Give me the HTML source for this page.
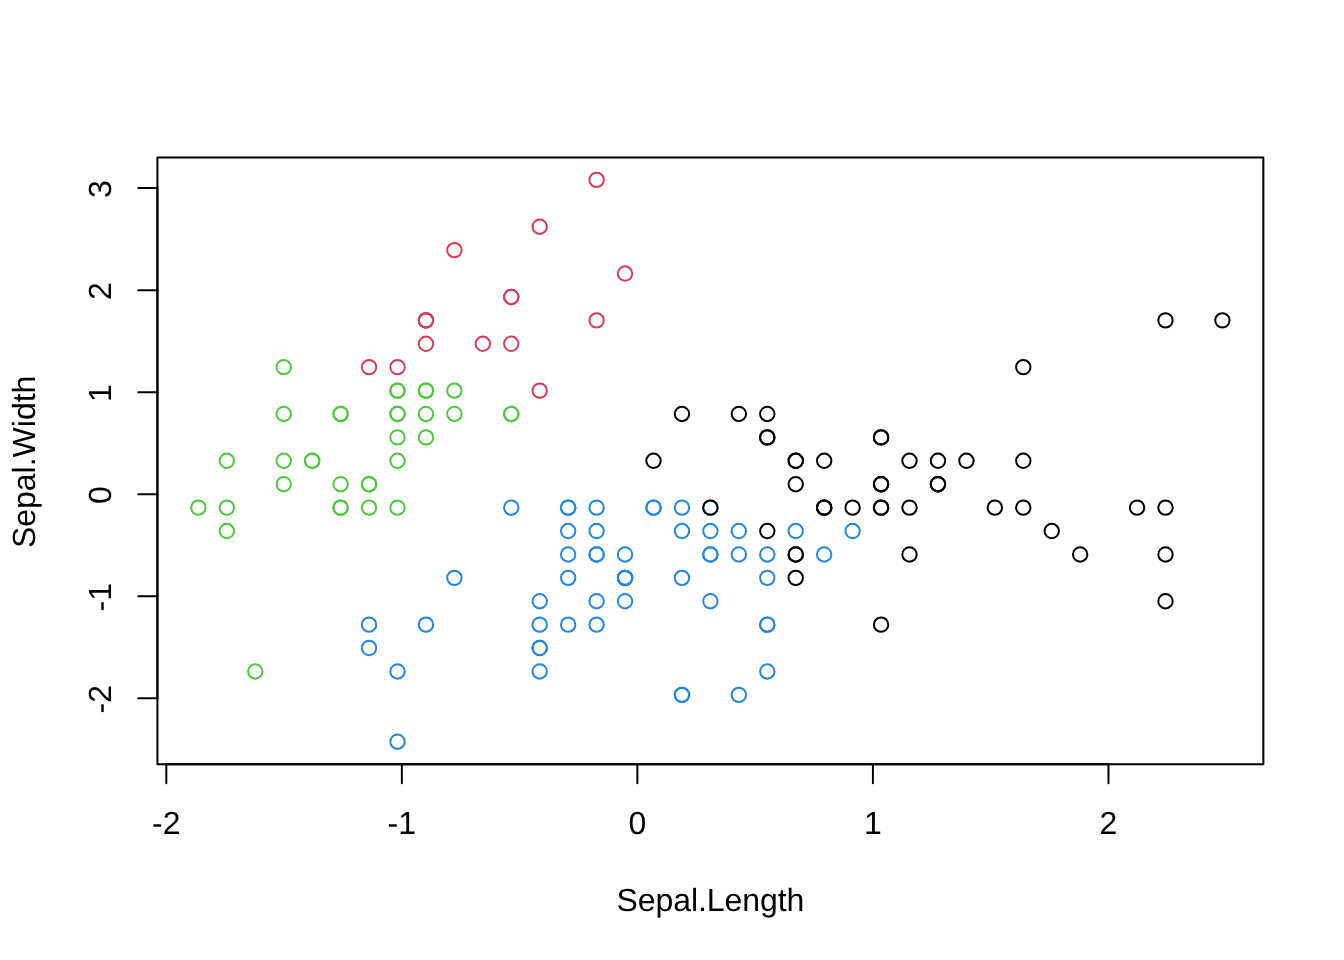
<!DOCTYPE html>
<html lang="en"><head><meta charset="utf-8"><title>Sepal.Length vs Sepal.Width</title>
<style>html,body{margin:0;padding:0;background:#fff}svg{display:block}text{text-rendering:geometricPrecision;font-family:"Liberation Sans",Arial,Helvetica,sans-serif;font-size:32px;fill:#000}</style></head>
<body>
<svg width="1344" height="960" viewBox="0 0 1344 960">
<rect width="1344" height="960" fill="#fff"/>
<g fill="none" stroke-width="2">
<circle cx="425.96" cy="390.58" r="7.2" stroke="#4EC73D"/>
<circle cx="369.07" cy="507.61" r="7.2" stroke="#4EC73D"/>
<circle cx="312.18" cy="460.80" r="7.2" stroke="#4EC73D"/>
<circle cx="283.73" cy="484.21" r="7.2" stroke="#4EC73D"/>
<circle cx="397.51" cy="367.17" r="7.2" stroke="#D43C58"/>
<circle cx="511.29" cy="296.95" r="7.2" stroke="#D43C58"/>
<circle cx="283.73" cy="413.99" r="7.2" stroke="#4EC73D"/>
<circle cx="397.51" cy="413.99" r="7.2" stroke="#4EC73D"/>
<circle cx="226.84" cy="531.02" r="7.2" stroke="#4EC73D"/>
<circle cx="369.07" cy="484.21" r="7.2" stroke="#4EC73D"/>
<circle cx="511.29" cy="343.76" r="7.2" stroke="#D43C58"/>
<circle cx="340.62" cy="413.99" r="7.2" stroke="#4EC73D"/>
<circle cx="340.62" cy="507.61" r="7.2" stroke="#4EC73D"/>
<circle cx="198.40" cy="507.61" r="7.2" stroke="#4EC73D"/>
<circle cx="625.07" cy="273.54" r="7.2" stroke="#D43C58"/>
<circle cx="596.62" cy="179.91" r="7.2" stroke="#D43C58"/>
<circle cx="511.29" cy="296.95" r="7.2" stroke="#D43C58"/>
<circle cx="425.96" cy="390.58" r="7.2" stroke="#4EC73D"/>
<circle cx="596.62" cy="320.36" r="7.2" stroke="#D43C58"/>
<circle cx="425.96" cy="320.36" r="7.2" stroke="#D43C58"/>
<circle cx="511.29" cy="413.99" r="7.2" stroke="#4EC73D"/>
<circle cx="425.96" cy="343.76" r="7.2" stroke="#D43C58"/>
<circle cx="283.73" cy="367.17" r="7.2" stroke="#4EC73D"/>
<circle cx="425.96" cy="437.39" r="7.2" stroke="#4EC73D"/>
<circle cx="340.62" cy="413.99" r="7.2" stroke="#4EC73D"/>
<circle cx="397.51" cy="507.61" r="7.2" stroke="#4EC73D"/>
<circle cx="397.51" cy="413.99" r="7.2" stroke="#4EC73D"/>
<circle cx="454.40" cy="390.58" r="7.2" stroke="#4EC73D"/>
<circle cx="454.40" cy="413.99" r="7.2" stroke="#4EC73D"/>
<circle cx="312.18" cy="460.80" r="7.2" stroke="#4EC73D"/>
<circle cx="340.62" cy="484.21" r="7.2" stroke="#4EC73D"/>
<circle cx="511.29" cy="413.99" r="7.2" stroke="#4EC73D"/>
<circle cx="454.40" cy="250.13" r="7.2" stroke="#D43C58"/>
<circle cx="539.73" cy="226.73" r="7.2" stroke="#D43C58"/>
<circle cx="369.07" cy="484.21" r="7.2" stroke="#4EC73D"/>
<circle cx="397.51" cy="460.80" r="7.2" stroke="#4EC73D"/>
<circle cx="539.73" cy="390.58" r="7.2" stroke="#D43C58"/>
<circle cx="369.07" cy="367.17" r="7.2" stroke="#D43C58"/>
<circle cx="226.84" cy="507.61" r="7.2" stroke="#4EC73D"/>
<circle cx="425.96" cy="413.99" r="7.2" stroke="#4EC73D"/>
<circle cx="397.51" cy="390.58" r="7.2" stroke="#4EC73D"/>
<circle cx="255.29" cy="671.47" r="7.2" stroke="#4EC73D"/>
<circle cx="226.84" cy="460.80" r="7.2" stroke="#4EC73D"/>
<circle cx="397.51" cy="390.58" r="7.2" stroke="#4EC73D"/>
<circle cx="425.96" cy="320.36" r="7.2" stroke="#D43C58"/>
<circle cx="340.62" cy="507.61" r="7.2" stroke="#4EC73D"/>
<circle cx="425.96" cy="320.36" r="7.2" stroke="#D43C58"/>
<circle cx="283.73" cy="460.80" r="7.2" stroke="#4EC73D"/>
<circle cx="482.84" cy="343.76" r="7.2" stroke="#D43C58"/>
<circle cx="397.51" cy="437.39" r="7.2" stroke="#4EC73D"/>
<circle cx="966.40" cy="460.80" r="7.2" stroke="#000000"/>
<circle cx="795.73" cy="460.80" r="7.2" stroke="#000000"/>
<circle cx="937.96" cy="484.21" r="7.2" stroke="#000000"/>
<circle cx="539.73" cy="671.47" r="7.2" stroke="#2485E2"/>
<circle cx="824.18" cy="554.43" r="7.2" stroke="#2485E2"/>
<circle cx="596.62" cy="554.43" r="7.2" stroke="#2485E2"/>
<circle cx="767.29" cy="437.39" r="7.2" stroke="#000000"/>
<circle cx="369.07" cy="648.06" r="7.2" stroke="#2485E2"/>
<circle cx="852.62" cy="531.02" r="7.2" stroke="#2485E2"/>
<circle cx="454.40" cy="577.84" r="7.2" stroke="#2485E2"/>
<circle cx="397.51" cy="741.69" r="7.2" stroke="#2485E2"/>
<circle cx="653.51" cy="507.61" r="7.2" stroke="#2485E2"/>
<circle cx="681.96" cy="694.87" r="7.2" stroke="#2485E2"/>
<circle cx="710.40" cy="531.02" r="7.2" stroke="#2485E2"/>
<circle cx="568.18" cy="531.02" r="7.2" stroke="#2485E2"/>
<circle cx="881.07" cy="484.21" r="7.2" stroke="#000000"/>
<circle cx="568.18" cy="507.61" r="7.2" stroke="#2485E2"/>
<circle cx="625.07" cy="577.84" r="7.2" stroke="#2485E2"/>
<circle cx="738.84" cy="694.87" r="7.2" stroke="#2485E2"/>
<circle cx="568.18" cy="624.65" r="7.2" stroke="#2485E2"/>
<circle cx="653.51" cy="460.80" r="7.2" stroke="#000000"/>
<circle cx="710.40" cy="554.43" r="7.2" stroke="#2485E2"/>
<circle cx="767.29" cy="624.65" r="7.2" stroke="#2485E2"/>
<circle cx="710.40" cy="554.43" r="7.2" stroke="#2485E2"/>
<circle cx="795.73" cy="531.02" r="7.2" stroke="#2485E2"/>
<circle cx="852.62" cy="507.61" r="7.2" stroke="#000000"/>
<circle cx="909.51" cy="554.43" r="7.2" stroke="#000000"/>
<circle cx="881.07" cy="507.61" r="7.2" stroke="#000000"/>
<circle cx="681.96" cy="531.02" r="7.2" stroke="#2485E2"/>
<circle cx="596.62" cy="601.24" r="7.2" stroke="#2485E2"/>
<circle cx="539.73" cy="648.06" r="7.2" stroke="#2485E2"/>
<circle cx="539.73" cy="648.06" r="7.2" stroke="#2485E2"/>
<circle cx="625.07" cy="577.84" r="7.2" stroke="#2485E2"/>
<circle cx="681.96" cy="577.84" r="7.2" stroke="#2485E2"/>
<circle cx="511.29" cy="507.61" r="7.2" stroke="#2485E2"/>
<circle cx="681.96" cy="413.99" r="7.2" stroke="#000000"/>
<circle cx="881.07" cy="484.21" r="7.2" stroke="#000000"/>
<circle cx="767.29" cy="671.47" r="7.2" stroke="#2485E2"/>
<circle cx="568.18" cy="507.61" r="7.2" stroke="#2485E2"/>
<circle cx="539.73" cy="624.65" r="7.2" stroke="#2485E2"/>
<circle cx="539.73" cy="601.24" r="7.2" stroke="#2485E2"/>
<circle cx="710.40" cy="507.61" r="7.2" stroke="#2485E2"/>
<circle cx="625.07" cy="601.24" r="7.2" stroke="#2485E2"/>
<circle cx="397.51" cy="671.47" r="7.2" stroke="#2485E2"/>
<circle cx="568.18" cy="577.84" r="7.2" stroke="#2485E2"/>
<circle cx="596.62" cy="507.61" r="7.2" stroke="#2485E2"/>
<circle cx="596.62" cy="531.02" r="7.2" stroke="#2485E2"/>
<circle cx="738.84" cy="531.02" r="7.2" stroke="#2485E2"/>
<circle cx="425.96" cy="624.65" r="7.2" stroke="#2485E2"/>
<circle cx="596.62" cy="554.43" r="7.2" stroke="#2485E2"/>
<circle cx="767.29" cy="437.39" r="7.2" stroke="#000000"/>
<circle cx="625.07" cy="577.84" r="7.2" stroke="#2485E2"/>
<circle cx="994.84" cy="507.61" r="7.2" stroke="#000000"/>
<circle cx="767.29" cy="531.02" r="7.2" stroke="#000000"/>
<circle cx="824.18" cy="507.61" r="7.2" stroke="#000000"/>
<circle cx="1137.07" cy="507.61" r="7.2" stroke="#000000"/>
<circle cx="369.07" cy="624.65" r="7.2" stroke="#2485E2"/>
<circle cx="1051.73" cy="531.02" r="7.2" stroke="#000000"/>
<circle cx="881.07" cy="624.65" r="7.2" stroke="#000000"/>
<circle cx="1023.29" cy="367.17" r="7.2" stroke="#000000"/>
<circle cx="824.18" cy="460.80" r="7.2" stroke="#000000"/>
<circle cx="795.73" cy="577.84" r="7.2" stroke="#000000"/>
<circle cx="909.51" cy="507.61" r="7.2" stroke="#000000"/>
<circle cx="596.62" cy="624.65" r="7.2" stroke="#2485E2"/>
<circle cx="625.07" cy="554.43" r="7.2" stroke="#2485E2"/>
<circle cx="795.73" cy="460.80" r="7.2" stroke="#000000"/>
<circle cx="824.18" cy="507.61" r="7.2" stroke="#000000"/>
<circle cx="1165.51" cy="320.36" r="7.2" stroke="#000000"/>
<circle cx="1165.51" cy="601.24" r="7.2" stroke="#000000"/>
<circle cx="681.96" cy="694.87" r="7.2" stroke="#2485E2"/>
<circle cx="937.96" cy="460.80" r="7.2" stroke="#000000"/>
<circle cx="568.18" cy="554.43" r="7.2" stroke="#2485E2"/>
<circle cx="1165.51" cy="554.43" r="7.2" stroke="#000000"/>
<circle cx="767.29" cy="577.84" r="7.2" stroke="#2485E2"/>
<circle cx="881.07" cy="437.39" r="7.2" stroke="#000000"/>
<circle cx="1023.29" cy="460.80" r="7.2" stroke="#000000"/>
<circle cx="738.84" cy="554.43" r="7.2" stroke="#2485E2"/>
<circle cx="710.40" cy="507.61" r="7.2" stroke="#000000"/>
<circle cx="795.73" cy="554.43" r="7.2" stroke="#000000"/>
<circle cx="1023.29" cy="507.61" r="7.2" stroke="#000000"/>
<circle cx="1080.18" cy="554.43" r="7.2" stroke="#000000"/>
<circle cx="1222.40" cy="320.36" r="7.2" stroke="#000000"/>
<circle cx="795.73" cy="554.43" r="7.2" stroke="#000000"/>
<circle cx="767.29" cy="554.43" r="7.2" stroke="#2485E2"/>
<circle cx="710.40" cy="601.24" r="7.2" stroke="#2485E2"/>
<circle cx="1165.51" cy="507.61" r="7.2" stroke="#000000"/>
<circle cx="767.29" cy="413.99" r="7.2" stroke="#000000"/>
<circle cx="795.73" cy="484.21" r="7.2" stroke="#000000"/>
<circle cx="681.96" cy="507.61" r="7.2" stroke="#2485E2"/>
<circle cx="937.96" cy="484.21" r="7.2" stroke="#000000"/>
<circle cx="881.07" cy="484.21" r="7.2" stroke="#000000"/>
<circle cx="937.96" cy="484.21" r="7.2" stroke="#000000"/>
<circle cx="625.07" cy="577.84" r="7.2" stroke="#2485E2"/>
<circle cx="909.51" cy="460.80" r="7.2" stroke="#000000"/>
<circle cx="881.07" cy="437.39" r="7.2" stroke="#000000"/>
<circle cx="881.07" cy="507.61" r="7.2" stroke="#000000"/>
<circle cx="767.29" cy="624.65" r="7.2" stroke="#2485E2"/>
<circle cx="824.18" cy="507.61" r="7.2" stroke="#000000"/>
<circle cx="738.84" cy="413.99" r="7.2" stroke="#000000"/>
<circle cx="653.51" cy="507.61" r="7.2" stroke="#2485E2"/>
</g>
<g fill="none" stroke="#000" stroke-width="2" stroke-linecap="round" stroke-linejoin="round">
<path d="M166.31 764.16H1108.47"/>
<path d="M166.31 764.16v19.2"/>
<path d="M401.85 764.16v19.2"/>
<path d="M637.39 764.16v19.2"/>
<path d="M872.93 764.16v19.2"/>
<path d="M1108.47 764.16v19.2"/>
<path d="M157.44 698.24V188.12"/>
<path d="M157.44 698.24h-19.2"/>
<path d="M157.44 596.22h-19.2"/>
<path d="M157.44 494.19h-19.2"/>
<path d="M157.44 392.17h-19.2"/>
<path d="M157.44 290.14h-19.2"/>
<path d="M157.44 188.12h-19.2"/>
<rect x="157.44" y="157.44" width="1105.92" height="606.72"/>
</g>
<g text-anchor="middle">
<text x="166.31" y="834.08">-2</text>
<text x="401.85" y="834.08">-1</text>
<text x="637.39" y="834.08">0</text>
<text x="872.93" y="834.08">1</text>
<text x="1108.47" y="834.08">2</text>
<text transform="translate(111.36 699.24) rotate(-90)">-2</text>
<text transform="translate(111.36 597.22) rotate(-90)">-1</text>
<text transform="translate(111.36 495.19) rotate(-90)">0</text>
<text transform="translate(111.36 393.17) rotate(-90)">1</text>
<text transform="translate(111.36 291.14) rotate(-90)">2</text>
<text transform="translate(111.36 189.12) rotate(-90)">3</text>
<text x="710.40" y="910.88" letter-spacing="-0.07">Sepal.Length</text>
<text transform="translate(34.76 461.85) rotate(-90)">Sepal.Width</text>
</g>
</svg>
</body></html>
